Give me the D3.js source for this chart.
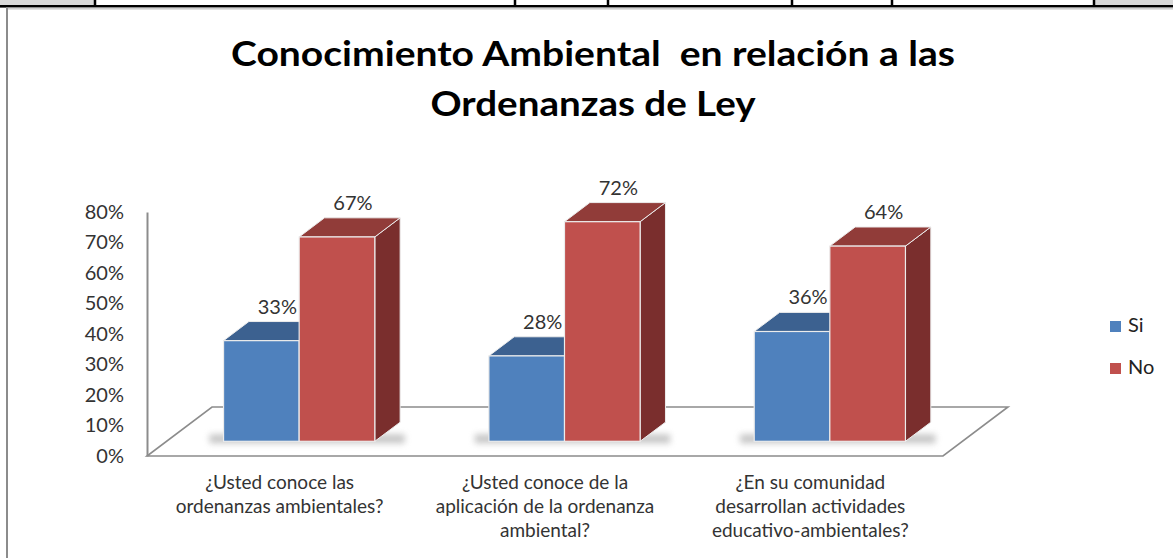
<!DOCTYPE html>
<html>
<head>
<meta charset="utf-8">
<script src="https://cdn.jsdelivr.net/npm/d3@7"></script>
<style>
  body { margin: 0; background: #fff; }
  svg { display: block; font-family: Lato, "Open Sans", sans-serif; }
</style>
</head>
<body>
<div id="chart"></div>
<script>
// data
const categories = [
  ['¿Usted conoce las', 'ordenanzas ambientales?'],
  ['¿Usted conoce de la', 'aplicación de la ordenanza', 'ambiental?'],
  ['¿En su comunidad', 'desarrollan actividades', 'educativo-ambientales?']
];
const seriesNames = ['Si', 'No'];
const siValues = [0.33, 0.28, 0.36];
const noValues = [0.67, 0.72, 0.64];
const yTicks = [0, 0.1, 0.2, 0.3, 0.4, 0.5, 0.6, 0.7, 0.8];
const titleLines = ['Conocimiento Ambiental  en relación a las', 'Ordenanzas de Ley'];

const colors = {
  Si: { front: '#4f81bd', top: '#3c6190', side: '#2f4d73' },
  No: { front: '#c0504d', top: '#913c39', side: '#7a2e2d' }
};

const width = 1173, height = 558;
const floor = { x0: 147, x1: 943, y0: 456, dx: 65, dy: 49 };
const barFront = 0.3, barBack = 0.69;

const svg = d3.select('#chart').append('svg')
  .attr('width', width)
  .attr('height', height);

const defs = svg.append('defs');
defs.append('filter').attr('id', 'blur')
  .attr('x', '-20%').attr('y', '-100%').attr('width', '140%').attr('height', '300%')
  .append('feGaussianBlur').attr('stdDeviation', 3);

// spreadsheet strip on top
const cellEdges = [0, 95, 515, 608, 792, 892, 1094, 1173];
svg.append('rect').attr('x', 0).attr('y', 0).attr('width', 95).attr('height', 6).attr('fill', '#d9d9d9');
svg.append('rect').attr('x', 1094).attr('y', 0).attr('width', 79).attr('height', 6).attr('fill', '#d9d9d9');
svg.selectAll('.cellLine')
  .data(cellEdges.slice(1, -1))
  .enter().append('line')
  .attr('class', 'cellLine')
  .attr('x1', d => d).attr('x2', d => d)
  .attr('y1', 0).attr('y2', 6)
  .attr('stroke', '#000').attr('stroke-width', 2.5);
svg.append('rect').attr('x', 0).attr('y', 5).attr('width', width).attr('height', 2.6).attr('fill', '#000');
svg.append('rect').attr('x', 6).attr('y', 7.6).attr('width', width - 6).attr('height', 2).attr('fill', '#cfcfcf');
svg.append('rect').attr('x', 6).attr('y', 7.6).attr('width', 2).attr('height', height).attr('fill', '#8c8c8c');

// title (the picture is stretched sideways, so fit each line to its width)
const titleWidths = [724, 325];
svg.append('text')
  .attr('text-anchor', 'middle')
  .attr('font-weight', 'bold').attr('font-size', 34).attr('fill', '#000')
  .style('white-space', 'pre')
  .selectAll('tspan')
  .data(titleLines)
  .enter().append('tspan')
  .attr('x', 593)
  .attr('y', (d, i) => 66 + i * 50)
  .attr('textLength', (d, i) => titleWidths[i])
  .attr('lengthAdjust', 'spacingAndGlyphs')
  .text(d => d);

// scales
const y = d3.scaleLinear().domain([0, 0.8]).range([floor.y0, floor.y0 - 244]);
const x0 = d3.scaleBand().domain(d3.range(categories.length)).range([floor.x0, floor.x1]);
const bw = x0.bandwidth() * 0.285;
const x1 = d3.scaleBand().domain(seriesNames).range([-bw, bw]);

// floor
const fl = [
  [floor.x0, floor.y0], [floor.x1, floor.y0],
  [floor.x1 + floor.dx, floor.y0 - floor.dy], [floor.x0 + floor.dx, floor.y0 - floor.dy]
];
svg.append('path')
  .attr('d', d3.line()(fl) + 'Z')
  .attr('fill', '#fff')
  .attr('stroke', '#8c8c8c')
  .attr('stroke-width', 1.6);

// value axis
const yAxis = svg.append('g')
  .attr('transform', `translate(${floor.x0},0)`)
  .call(d3.axisLeft(y).tickValues(yTicks).tickSize(0).tickSizeOuter(0).tickPadding(23)
    .tickFormat(d3.format('.0%')));
yAxis.select('.domain').attr('stroke', '#8c8c8c').attr('stroke-width', 2);
yAxis.selectAll('text')
  .attr('font-family', 'Lato, sans-serif')
  .attr('font-size', 20)
  .attr('fill', '#333');

// bars
const bars = [];
categories.forEach((c, i) => {
  bars.push({ cat: i, s: 'Si', v: siValues[i] });
  bars.push({ cat: i, s: 'No', v: noValues[i] });
});

const ox = d => floor.dx * d, oy = d => -floor.dy * d;

const g = svg.selectAll('.bar')
  .data(bars)
  .enter().append('g')
  .attr('class', 'bar');

// soft shadow on the floor
g.filter(d => d.s === 'Si').append('rect')
  .attr('x', d => x0(d.cat) + x0.bandwidth() / 2 - bw + ox(barFront) - 14)
  .attr('y', floor.y0 + oy(barFront) - 7)
  .attr('width', bw * 2 + 44)
  .attr('height', 9)
  .attr('fill', '#999')
  .attr('opacity', 0.55)
  .attr('filter', 'url(#blur)');

g.each(function (d) {
  const el = d3.select(this);
  const cx = x0(d.cat) + x0.bandwidth() / 2;
  const xl = cx + x1(d.s) + ox(barFront);
  const xr = xl + x1.bandwidth();
  const yb = y(0) + oy(barFront);
  const yt = y(d.v) + oy(barFront);
  const ddx = ox(barBack) - ox(barFront), ddy = oy(barBack) - oy(barFront);
  const c = colors[d.s];
  const edge = '#ececec';
  el.append('path')
    .attr('d', d3.line()([[xr, yt], [xr + ddx, yt + ddy], [xr + ddx, yb + ddy], [xr, yb]]) + 'Z')
    .attr('fill', c.side).attr('stroke', edge).attr('stroke-width', 1);
  el.append('path')
    .attr('d', d3.line()([[xl, yt], [xl + ddx, yt + ddy], [xr + ddx, yt + ddy], [xr, yt]]) + 'Z')
    .attr('fill', c.top).attr('stroke', edge).attr('stroke-width', 1);
  el.append('rect')
    .attr('x', xl).attr('y', yt)
    .attr('width', xr - xl).attr('height', yb - yt)
    .attr('fill', c.front).attr('stroke', edge).attr('stroke-width', 1.2);
  el.append('text')
    .attr('x', (xl + xr) / 2 + 16)
    .attr('y', yt + ddy - 8)
    .attr('text-anchor', 'middle')
    .attr('font-size', 20)
    .attr('fill', '#333')
    .text(d3.format('.0%')(d.v));
});

// category labels
svg.selectAll('.cat')
  .data(categories)
  .enter().append('text')
  .attr('class', 'cat')
  .attr('text-anchor', 'middle')
  .attr('font-size', 19)
  .attr('fill', '#333')
  .each(function (lines, i) {
    d3.select(this).selectAll('tspan')
      .data(lines)
      .enter().append('tspan')
      .attr('x', x0(i) + x0.bandwidth() / 2)
      .attr('y', (d, j) => 489 + j * 24)
      .text(d => d);
  });

// legend
const legend = svg.selectAll('.legend')
  .data(seriesNames)
  .enter().append('g')
  .attr('class', 'legend')
  .attr('transform', (d, i) => `translate(1110,${321 + i * 42})`);
legend.append('rect')
  .attr('width', 11).attr('height', 11)
  .attr('fill', d => colors[d].front);
legend.append('text')
  .attr('x', 18).attr('y', 11)
  .attr('font-size', 20)
  .attr('fill', '#222')
  .text(d => d);
</script>
</body>
</html>
